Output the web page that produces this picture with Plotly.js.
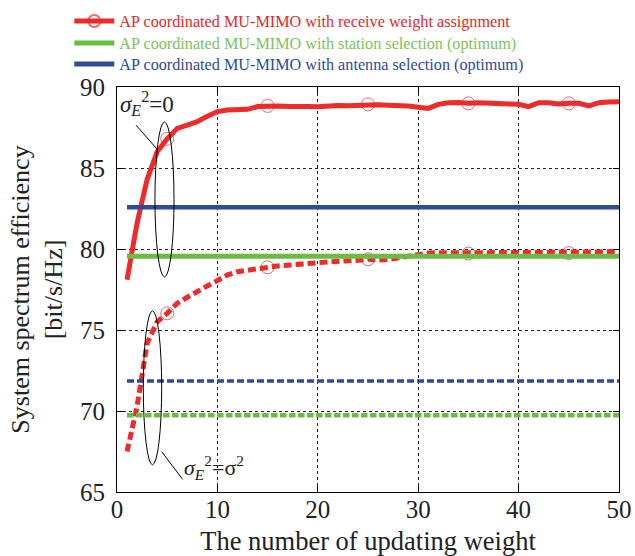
<!DOCTYPE html>
<html>
<head>
<meta charset="utf-8">
<script src="https://cdn.plot.ly/plotly-3.0.1.min.js"></script>
<style>html,body{margin:0;padding:0;background:#fff;}#chart{width:635px;height:556px;}</style>
</head>
<body>
<div id="chart"></div>
<script>
// ---- data ----
var updates = [];
for (var i = 1; i <= 50; i++) updates.push(i);

var weightNoError = [78.1, 81.6, 84.3, 86.0, 86.8, 87.45, 87.65, 87.86, 88.2, 88.48,
  88.58, 88.58, 88.62, 88.79, 88.83, 88.82, 88.8, 88.82, 88.8, 88.78,
  88.85, 88.86, 88.85, 88.87, 88.93, 88.9, 88.88, 88.89, 88.83, 88.75,
  88.68, 88.93, 89.03, 89.05, 88.99, 89.03, 88.99, 88.95, 88.93, 88.93,
  88.79, 89.03, 89.03, 88.95, 88.99, 88.99, 88.83, 89.03, 89.08, 89.09];

var weightWithError = [67.5, 70.27, 74.18, 75.51, 76.03, 76.65, 77.02, 77.41, 77.72, 78.05,
  78.4, 78.6, 78.7, 78.8, 78.87, 78.95, 79.0, 79.07, 79.1, 79.15,
  79.2, 79.22, 79.25, 79.3, 79.37, 79.32, 79.35, 79.45, 79.55, 79.7,
  79.75, 79.77, 79.77, 79.75, 79.72, 79.75, 79.77, 79.77, 79.78, 79.78,
  79.8, 79.8, 79.8, 79.8, 79.75, 79.8, 79.82, 79.82, 79.83, 79.85];

var stationSelNoError = 79.55;
var stationSelWithError = 69.73;
var antennaSelNoError = 82.57;
var antennaSelWithError = 71.85;

var markerEvery = [5, 15, 25, 35, 45];

var legendNames = [
  'AP coordinated MU-MIMO with receive weight assignment',
  'AP coordinated MU-MIMO with station selection (optimum)',
  'AP coordinated MU-MIMO with antenna selection (optimum)'
];

var RED = '#ee2a2a', GREEN = '#6cbb45', BLUE = '#2e4a9b';
var FONT = 'Liberation Serif, Times New Roman, serif';

function flat(v) { return updates.map(function () { return v; }); }
var markerSizes = updates.map(function (x) { return markerEvery.indexOf(x) >= 0 ? 13 : 0; });
function lg(name, col) {
  return '<span style="color:' + col + '">' + name + '</span>';
}

var traces = [
  { x: updates, y: weightNoError, mode: 'lines+markers', name: lg(legendNames[0], '#e8262a'), legend: 'legend',
    line: { color: RED, width: 5 }, marker: { symbol: 'circle-open', color: RED, size: markerSizes, line: { width: 1, color: RED } },
    cliponaxis: false },
  { x: updates, y: weightWithError, mode: 'lines+markers', showlegend: false,
    line: { color: RED, width: 5, dash: '8px,4px' }, marker: { symbol: 'circle-open', color: RED, size: markerSizes, line: { width: 1, color: RED } },
    cliponaxis: false },
  { x: updates, y: flat(stationSelNoError), mode: 'lines', name: lg(legendNames[1], '#7cc35a'), legend: 'legend2',
    line: { color: GREEN, width: 5 } },
  { x: updates, y: flat(stationSelWithError), mode: 'lines', showlegend: false,
    line: { color: GREEN, width: 4.5, dash: '6.5px,2.5px' } },
  { x: updates, y: flat(antennaSelNoError), mode: 'lines', name: lg(legendNames[2], '#2e4a9b'), legend: 'legend3',
    line: { color: BLUE, width: 4.5 } },
  { x: updates, y: flat(antennaSelWithError), mode: 'lines', showlegend: false,
    line: { color: BLUE, width: 3.5, dash: '7px,3px' } }
];

var axisCommon = {
  showline: true, linecolor: '#000', linewidth: 1, mirror: 'ticks',
  ticks: 'inside', ticklen: 6, tickcolor: '#000',
  showgrid: true, gridcolor: '#222', griddash: 'dot', gridwidth: 1,
  zeroline: false, tickfont: { family: FONT, size: 25, color: '#222' }
};

function legendAt(y) {
  return {
    x: -0.095, xanchor: 'left', y: y, yanchor: 'top',
    bgcolor: 'rgba(0,0,0,0)', font: { family: FONT, size: 16.2, color: '#222' },
    itemsizing: 'constant', itemwidth: 40, tracegroupgap: 0
  };
}

var layout = {
  width: 635, height: 556,
  margin: { l: 117, r: 16, t: 87, b: 64, autoexpand: false },
  paper_bgcolor: '#fff', plot_bgcolor: '#fff',
  font: { family: FONT, color: '#222' },
  xaxis: Object.assign({}, axisCommon, {
    range: [0, 50], dtick: 10, tick0: 0, ticklabelstandoff: -5,
    title: { text: 'The number of updating weight', font: { family: FONT, size: 26.5, color: '#222' }, standoff: -5 }
  }),
  yaxis: Object.assign({}, axisCommon, {
    range: [65, 90], dtick: 5, tick0: 65, ticklabelstandoff: 6,
    title: { text: 'System spectrum efficiency<br>[bit/s/Hz]', font: { family: FONT, size: 26, color: '#222' }, standoff: 9 }
  }),
  showlegend: true,
  legend: legendAt(1.205),
  legend2: legendAt(1.1506),
  legend3: legendAt(1.0988),
  shapes: [
    { type: 'circle', xref: 'x', yref: 'y', x0: 3.78, x1: 5.68, y0: 78.28, y1: 87.84, line: { color: '#000', width: 1 } },
    { type: 'line', xref: 'x', yref: 'y', x0: 1.89, y0: 87.65, x1: 4.01, y1: 86.15, line: { color: '#000', width: 1 } },
    { type: 'circle', xref: 'x', yref: 'y', x0: 2.62, x1: 4.45, y0: 66.68, y1: 76.18, line: { color: '#000', width: 1 } },
    { type: 'line', xref: 'x', yref: 'y', x0: 4.45, y0: 67.49, x1: 6.54, y1: 65.78, line: { color: '#000', width: 1 } }
  ],
  annotations: [
    { xref: 'x', yref: 'y', x: 0.05, y: 89.0, xanchor: 'left', yanchor: 'middle', showarrow: false,
      text: '<i>σ</i><sub><i>E</i></sub><sup>2</sup>=0', font: { family: FONT, size: 23, color: '#222' } },
    { xref: 'x', yref: 'y', x: 6.5, y: 66.5, xanchor: 'left', yanchor: 'middle', showarrow: false,
      text: '<i>σ</i><sub><i>E</i></sub><sup>2</sup>=σ<sup>2</sup>', font: { family: FONT, size: 22, color: '#222' } }
  ]
};

Plotly.newPlot('chart', traces, layout, { displayModeBar: false, staticPlot: true });
</script>
</body>
</html>
